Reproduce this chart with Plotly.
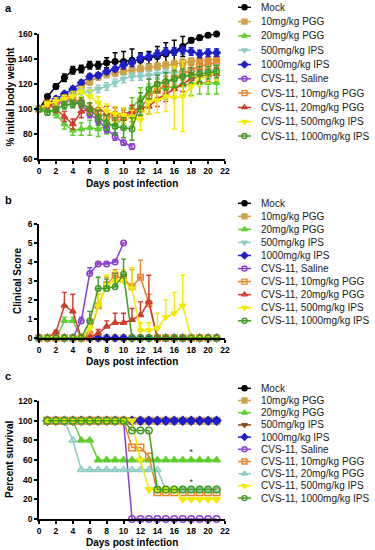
import plotly.graph_objects as go

# ---------------- data ----------------
names = ["Mock", "10mg/kg PGG", "20mg/kg PGG", "500mg/kg IPS", "1000mg/kg IPS",
         "CVS-11, Saline", "CVS-11, 10mg/kg PGG", "CVS-11, 20mg/kg PGG",
         "CVS-11, 500mg/kg IPS", "CVS-11, 1000mg/kg IPS"]

days_a = list(range(0, 22))
days_b = list(range(0, 22))
days_c = list(range(1, 22))
x_ticks = list(range(0, 23, 2))

# Panel a: % initial body weight
a_mock = [100, 110, 118, 125, 131, 132, 135, 135, 137, 138, 138, 139, 139, 141, 142, 144, 146, 150, 155, 157, 159, 160]
a_pgg10 = [100, 104, 106, 108, 112, 118, 122, 126, 128, 129, 130, 131, 132, 133, 134, 135, 136, 137, 138, 139, 139, 140]
a_pgg20 = [100, 100, 96, 88, 83, 84, 85, 84, 86, 88, 92, 101, 109, 112, 116, 117, 118, 119, 120, 121, 121, 121]
a_ips500 = [100, 103, 106, 108, 110, 113, 114, 116, 118, 121, 124, 126, 126, 127, 128, 129, 129, 130, 130, 130, 131, 131]
a_ips1000 = [100, 104, 108, 112, 116, 121, 126, 127, 130, 132, 135, 137, 141, 142, 144, 146, 146, 147, 146, 144, 145, 145]
a_saline = [100, 103, 104, 106, 107, 104, 96, 91, 84, 78, 73, 70]
a_cvs_pgg10 = [100, 104, 105, 108, 108, 105, 100, 96, 94, 93, 94, 95, 100, 110, 115, 120, 125, 128, 131, 134, 136, 137]
a_cvs_pgg20 = [100, 104, 100, 94, 88, 98, 100, 100, 97, 96, 96, 98, 101, 102, 108, 112, 116, 120, 124, 126, 127, 128]
a_cvs_ips500 = [100, 104, 106, 108, 110, 114, 110, 105, 98, 96, 95, 93, 91, 106, 107, 110, 109, 110, 118, 124, 127, 129]
a_cvs_ips1000 = [100, 97, 100, 103, 104, 105, 100, 93, 89, 86, 85, 84, 104, 116, 120, 122, 124, 126, 127, 128, 129, 130]

a_mock_err = [0, 1, 2, 3, 3, 3, 3, 3, 4, 7, 8, 9, 6, 5, 8, 9, 9, 8, 2, 2, 1, 1]
a_pgg10_err = [0, 2, 2, 3, 3, 3, 3, 3, 3, 3, 3, 3, 3, 3, 3, 3, 3, 3, 3, 3, 3, 3]
a_pgg20_err = [0, 2, 3, 4, 4, 5, 6, 6, 6, 7, 8, 8, 8, 8, 8, 9, 9, 9, 9, 9, 9, 9]
a_ips500_err = [0, 2, 2, 3, 3, 3, 3, 3, 3, 3, 3, 3, 3, 3, 3, 3, 3, 3, 3, 3, 3, 3]
a_ips1000_err = [0, 1, 2, 2, 2, 2, 2, 2, 2, 2, 3, 3, 3, 3, 3, 3, 3, 3, 3, 3, 3, 3]
a_saline_err = [0, 2, 2, 3, 3, 3, 3, 3, 3, 3, 2, 2]
a_cvs_pgg10_err = [0, 2, 3, 3, 3, 4, 4, 5, 5, 5, 5, 5, 6, 6, 6, 6, 5, 5, 4, 4, 4, 4]
a_cvs_pgg20_err = [0, 3, 3, 4, 4, 5, 5, 5, 5, 5, 5, 5, 6, 6, 6, 6, 6, 6, 5, 5, 5, 5]
a_cvs_ips500_err = [0, 2, 3, 3, 4, 4, 5, 5, 6, 6, 6, 6, 8, 10, 10, 12, 25, 28, 8, 6, 6, 6]
a_cvs_ips1000_err = [0, 2, 2, 3, 3, 4, 5, 6, 6, 7, 8, 9, 9, 8, 7, 7, 7, 6, 6, 6, 5, 5]

# Panel b: clinical score
b_mock = [0] * 22
b_pgg10 = [0] * 22
b_pgg20 = [0, 0, 0, 0.9, 0.9, 0, 0, 0, 0, 0, 0, 0, 0, 0, 0, 0, 0, 0, 0, 0, 0, 0]
b_ips500 = [0] * 22
b_ips1000 = [0] * 22
b_saline = [0, 0, 0, 0, 0, 0.9, 3.4, 3.9, 3.9, 4.0, 5.0]
b_cvs_pgg10 = [0, 0, 0, 0, 0, 0, 0.2, 1.7, 2.8, 3.3, 3.1, 2.7, 3.2, 1.8, 0, 0, 0, 0, 0, 0, 0, 0]
b_cvs_pgg20 = [0, 0, 0.3, 1.7, 1.4, 0, 0, 0.25, 0.6, 0.8, 0.8, 0.95, 1.2, 1.9, 0, 0, 0, 0, 0, 0, 0, 0]
b_cvs_ips500 = [0, 0, 0, 0, 0, 0, 0.5, 1.7, 2.8, 3.0, 3.0, 2.6, 0.4, 0.4, 0.5, 1.1, 1.3, 1.7, 0, 0, 0, 0]
b_cvs_ips1000 = [0, 0, 0, 0, 0, 0, 0.9, 2.6, 2.6, 2.7, 3.35, 0, 0, 0, 0, 0, 0, 0, 0, 0, 0, 0]

b_pgg20_err = [0, 0, 0, 0.2, 0.2, 0, 0, 0, 0, 0, 0, 0, 0, 0, 0, 0, 0, 0, 0, 0, 0, 0]
b_saline_err = [0, 0, 0, 0, 0, 0.2, 0.3, 0.1, 0.1, 0.1, 0]
b_cvs_pgg10_err = [0, 0, 0, 0, 0, 0, 0.3, 0.6, 0.4, 0.3, 0.5, 0.9, 0.9, 0.5, 0, 0, 0, 0, 0, 0, 0, 0]
b_cvs_pgg20_err = [0, 0, 0.1, 0.7, 0.9, 0, 0, 0.2, 0.3, 0.5, 0.5, 0.6, 0.7, 1.4, 0, 0, 0, 0, 0, 0, 0, 0]
b_cvs_ips500_err = [0, 0, 0, 0, 0, 0, 0.5, 0.6, 0.5, 0.5, 0.6, 1.1, 0.4, 0.4, 0.8, 0.9, 1.1, 1.6, 0, 0, 0, 0]
b_cvs_ips1000_err = [0, 0, 0, 0, 0, 0, 0.5, 0.6, 0.5, 0.7, 0.8, 0, 0, 0, 0, 0, 0, 0, 0, 0, 0, 0]

# Panel c: percent survival
c_mock = [100] * 21
c_pgg10 = [100] * 21
c_pgg20 = [100, 100, 100, 100, 80, 80, 60, 60, 60, 60, 60, 60, 60, 60, 60, 60, 60, 60, 60, 60, 60]
c_ips500 = [100] * 21
c_ips1000 = [100] * 21
c_saline = [100, 100, 100, 100, 100, 100, 100, 100, 100, 100, 0, 0, 0, 0, 0, 0, 0, 0, 0, 0, 0]
c_cvs_pgg10 = [100, 100, 100, 100, 100, 100, 100, 100, 100, 100, 72.7, 72.7, 63.6, 27.3, 27.3, 27.3, 27.3, 27.3, 27.3, 27.3, 27.3]
c_cvs_pgg20 = [100, 100, 100, 80, 50, 50, 50, 50, 50, 50, 50, 50, 50, 50, 30, 30, 30, 30, 30, 30, 30]
c_cvs_ips500 = [100, 100, 100, 100, 100, 100, 100, 100, 100, 100, 100, 60, 30, 30, 30, 30, 20, 20, 20, 20, 20]
c_cvs_ips1000 = [100, 100, 100, 100, 100, 100, 100, 100, 100, 100, 90, 90, 90, 30, 30, 30, 30, 30, 30, 30, 30]

sig_days = [18, 18]
sig_values = [67, 37]

# ---------------- styles ----------------
C_BLACK = "#000000"
C_TAN = "#CFA24A"
C_GREEN = "#5FCF2E"
C_TEAL = "#8CCCC4"
C_BLUE = "#1F1FC9"
C_PURPLE = "#8A3FD1"
C_ORANGE = "#E8842A"
C_RED = "#D03A2A"
C_YELLOW = "#F0EC00"
C_DGREEN = "#3F9A22"
C_BROWN = "#8B4A1A"

style_ab = [
    (C_BLACK, "circle"), (C_TAN, "square"), (C_GREEN, "triangle-up"),
    (C_TEAL, "triangle-down"), (C_BLUE, "diamond"), (C_PURPLE, "circle-open"),
    (C_ORANGE, "square-open"), (C_RED, "triangle-up-open"),
    (C_YELLOW, "triangle-down"), (C_DGREEN, "circle-open"),
]
style_c = [
    (C_BLACK, "circle"), (C_TAN, "square"), (C_GREEN, "triangle-up"),
    (C_BROWN, "triangle-down"), (C_BLUE, "diamond"), (C_PURPLE, "circle-open"),
    (C_ORANGE, "square-open"), (C_TEAL, "triangle-up-open"),
    (C_YELLOW, "triangle-down"), (C_DGREEN, "circle-open"),
]

W, H = 375, 550
X0, X1 = 39, 225
FONT = "Liberation Sans, Arial, sans-serif"

fig = go.Figure()


def add_series(x, y, err, color, symbol, xa, ya, both=True, size=6):
    kw = dict(
        x=x[:len(y)], y=y, mode="lines+markers", xaxis=xa, yaxis=ya,
        showlegend=False, cliponaxis=False, hoverinfo="skip",
        line=dict(color=color, width=1.5),
        marker=dict(symbol=symbol, size=size, color=color,
                    line=dict(color=color, width=1.5)),
    )
    if err is not None:
        kw["error_y"] = dict(type="data", array=err,
                             arrayminus=err if both else [0] * len(err),
                             symmetric=False, color=color, thickness=1.4, width=2.5)
    fig.add_trace(go.Scatter(**kw))


a_vals = [a_mock, a_pgg10, a_pgg20, a_ips500, a_ips1000, a_saline,
          a_cvs_pgg10, a_cvs_pgg20, a_cvs_ips500, a_cvs_ips1000]
a_errs = [a_mock_err, a_pgg10_err, a_pgg20_err, a_ips500_err, a_ips1000_err, a_saline_err,
          a_cvs_pgg10_err, a_cvs_pgg20_err, a_cvs_ips500_err, a_cvs_ips1000_err]
for v, e, (col, sym) in zip(a_vals, a_errs, style_ab):
    add_series(days_a, v, e, col, sym, "x", "y", both=True, size=5.5)

b_vals = [b_mock, b_pgg10, b_pgg20, b_ips500, b_ips1000, b_saline,
          b_cvs_pgg10, b_cvs_pgg20, b_cvs_ips500, b_cvs_ips1000]
b_errs = [None, None, b_pgg20_err, None, None, b_saline_err,
          b_cvs_pgg10_err, b_cvs_pgg20_err, b_cvs_ips500_err, b_cvs_ips1000_err]
for v, e, (col, sym) in zip(b_vals, b_errs, style_ab):
    add_series(days_b, v, e, col, sym, "x2", "y2", both=False, size=5.5)

c_vals = [c_mock, c_pgg10, c_pgg20, c_ips500, c_ips1000, c_saline,
          c_cvs_pgg10, c_cvs_pgg20, c_cvs_ips500, c_cvs_ips1000]
for v, (col, sym) in zip(c_vals, style_c):
    add_series(days_c, v, None, col, sym, "x3", "y3", size=6.5)

# significance marks
fig.add_trace(go.Scatter(x=sig_days, y=sig_values, mode="text", text=["*", "*"],
                         textfont=dict(size=9, color="#333", family=FONT),
                         xaxis="x3", yaxis="y3", showlegend=False, hoverinfo="skip",
                         cliponaxis=False))

# ---------------- axes ----------------
def ypaper(py):
    return 1 - py / H


axis_common = dict(
    showline=True, linecolor="black", linewidth=1.5, ticks="outside",
    ticklen=3, tickwidth=1.5, tickcolor="black", showgrid=False, zeroline=False,
    tickfont=dict(family=FONT, size=8.5, color="black", weight="bold"),
    fixedrange=True, automargin=False,
)

panels = [
    dict(top=34, bot=159, yr=[60, 160], yt=list(range(60, 161, 20)), ytitle="% initial body weight",
         tx=10, xtitle_y=183, label="a", label_y=8, leg_y0=7.3, leg_dy=14.3, style=style_ab),
    dict(top=224, bot=338, yr=[0, 6], yt=list(range(0, 7)), ytitle="Clinical Score",
         tx=17, xtitle_y=361, label="b", label_y=200, leg_y0=203.3, leg_dy=13.05, style=style_ab),
    dict(top=401, bot=519, yr=[0, 120], yt=list(range(0, 121, 20)), ytitle="Percent survival",
         tx=9, xtitle_y=542, label="c", label_y=376, leg_y0=388.3, leg_dy=12.2, style=style_c),
]

layout = dict(
    width=W, height=H, margin=dict(l=0, r=0, t=0, b=0),
    paper_bgcolor="white", plot_bgcolor="rgba(0,0,0,0)", showlegend=False,
    font=dict(family=FONT, color="black"),
)
annotations = []
shapes = []

for i, p in enumerate(panels, start=1):
    sx = "" if i == 1 else str(i)
    layout["xaxis" + sx] = dict(axis_common, domain=[X0 / W, X1 / W], range=[0, 22],
                                tickvals=x_ticks, anchor="y" + sx)
    layout["yaxis" + sx] = dict(axis_common, domain=[ypaper(p["bot"]), ypaper(p["top"])],
                                range=p["yr"], tickvals=p["yt"], anchor="x" + sx)
    annotations.append(dict(text="Days post infection", x=(X0 + X1) / 2, y=p["xtitle_y"],
                            xref="x4", yref="y4", showarrow=False,
                            font=dict(family=FONT, size=10, weight="bold", color="black")))
    annotations.append(dict(text=p["ytitle"], x=p["tx"], y=(p["top"] + p["bot"]) / 2,
                            xref="x4", yref="y4", showarrow=False, textangle=-90,
                            font=dict(family=FONT, size=10, weight="bold", color="black")))
    annotations.append(dict(text=p["label"], x=3, y=p["label_y"], xref="x4", yref="y4",
                            showarrow=False, xanchor="left",
                            font=dict(family=FONT, size=11, weight="bold", color="black")))
    # manual legend (rows placed at fixed spacing)
    ys, cols, syms = [], [], []
    for k, (nm, (col, sym)) in enumerate(zip(names, p["style"])):
        yy = p["leg_y0"] + k * p["leg_dy"]
        shapes.append(dict(type="line", xref="x4", yref="y4", x0=238, x1=251, y0=yy, y1=yy,
                           line=dict(color=col, width=1.5)))
        annotations.append(dict(text=nm, x=259, y=yy, xref="x4", yref="y4", showarrow=False,
                                xanchor="left", yanchor="middle",
                                font=dict(family=FONT, size=10, color="#1a1a1a")))
        ys.append(yy)
        cols.append(col)
        syms.append(sym)
    fig.add_trace(go.Scatter(x=[244.5] * len(ys), y=ys, mode="markers", xaxis="x4", yaxis="y4",
                             showlegend=False, hoverinfo="skip", cliponaxis=False,
                             marker=dict(symbol=syms, size=5, color=cols,
                                         line=dict(color=cols, width=1.4))))

layout["xaxis4"] = dict(domain=[0, 1], range=[0, W], visible=False, fixedrange=True, anchor="y4")
layout["yaxis4"] = dict(domain=[0, 1], range=[H, 0], visible=False, fixedrange=True, anchor="x4")
layout["annotations"] = annotations
layout["shapes"] = shapes

fig.update_layout(**layout)
fig.write_html("out.html", config={"displayModeBar": False},
               post_script="document.body.style.margin='0px';document.body.style.padding='0px';")
